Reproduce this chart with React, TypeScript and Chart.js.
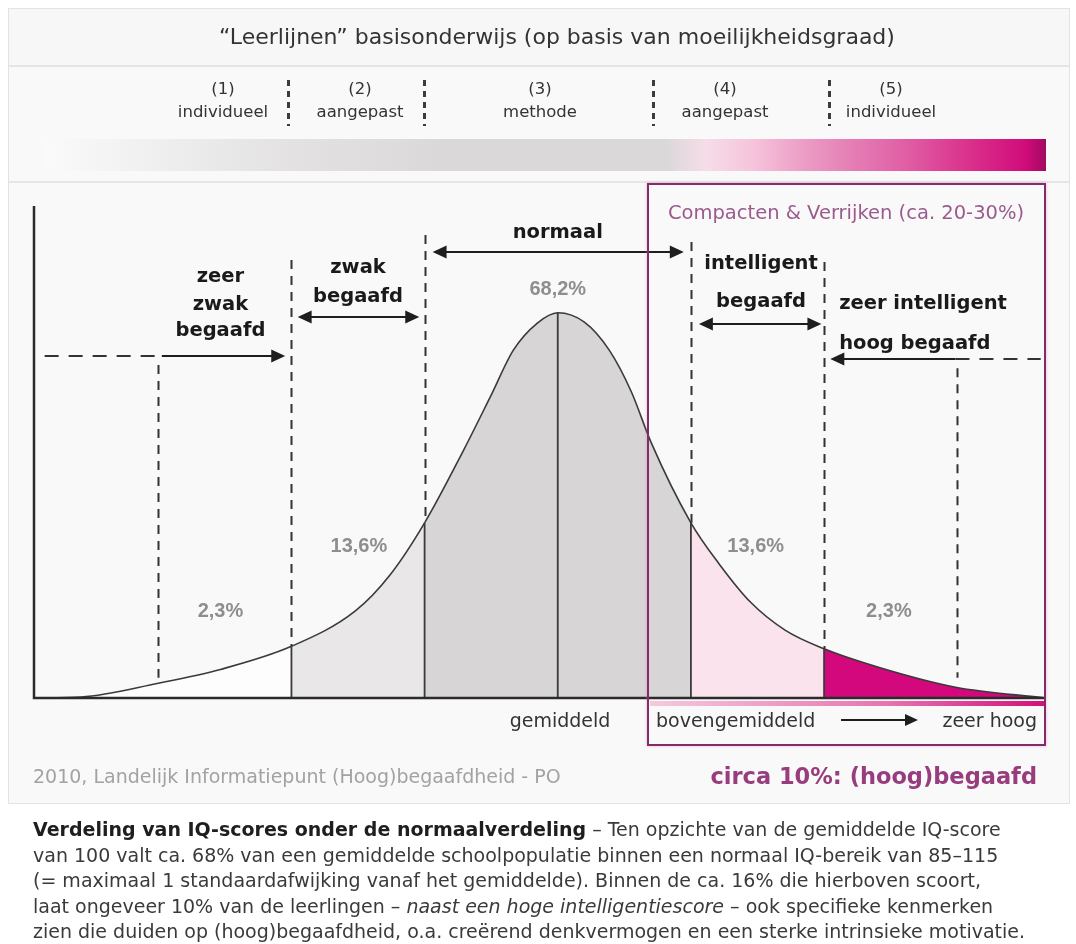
import React, { useEffect, useRef } from 'react';
import { Chart, registerables } from 'chart.js';

Chart.register(...registerables);

// ---------- data ----------
const iqScores = [41, 46.3, 55, 62, 70, 77.2, 81.1, 85, 89.4, 92.4, 95, 97.7, 100, 103, 105.8, 108.3, 110.5, 115, 118.2, 121.7, 125.6, 130, 136.4, 144.8, 155];
const density = [0, 0.2, 3.0, 5.8, 10.5, 17.7, 25, 35.6, 50.4, 61.2, 70.7, 76.2, 78.3, 76.4, 70.7, 62.2, 52, 35.6, 27.2, 19.5, 13.8, 10, 6.1, 2.2, 0];

const bandEdges = [70, 85, 100, 115, 130];
const bandColors = ['rgba(255,255,255,0.6)', '#e9e7e8', '#d7d5d6', '#d7d5d6', '#fbe3ed', '#d3087c'];

const percentLabels = ['2,3%', '13,6%', '68,2%', '13,6%', '2,3%'];
const percentIQ = [62, 77.6, 100, 122.3, 137.3];
const percentLevel = [17.5, 30.7, 83.1, 30.7, 17.5];

const levelNumbers = ['(1)', '(2)', '(3)', '(4)', '(5)'];
const levelNames = ['individueel', 'aangepast', 'methode', 'aangepast', 'individueel'];

const guideIQ = [55, 70, 85, 115, 130, 145];
const guideTop = [67.7, 89, 94.1, 92.7, 88.6, 67];
const guideBottom = [4.1, 10.5, 35.6, 35.6, 10, 4.1];

const groupLabels = [['zeer', 'zwak', 'begaafd'], ['zwak', 'begaafd'], ['normaal'], ['intelligent', 'begaafd'], ['zeer intelligent', 'hoog begaafd']];
const groupIQ = [62, 77.5, 100, 122.9, 131.7];
const groupLevels = [[85.6, 79.9, 74.6], [87.4, 81.5], [94.5], [88.2, 80.5], [80.1, 72.0]];

const arrowFrom = [55.4, 70.7, 85.9, 115.9, 130.7];
const arrowTo = [69.3, 84.4, 114.2, 129.7, 144.8];
const arrowLevel = [69.5, 77.4, 90.7, 76, 68.9];
const arrowHeads = ['end', 'both', 'both', 'both', 'start'];

const dashFrom = [42.2, 144.8];
const dashTo = [55.4, 154.4];
const dashLevel = [69.5, 68.9];

const captionLines = [
  ['b', 'Verdeling van IQ-scores onder de normaalverdeling', 'n', ' – Ten opzichte van de gemiddelde IQ-score'],
  ['n', 'van 100 valt ca. 68% van een gemiddelde schoolpopulatie binnen een normaal IQ-bereik van 85–115'],
  ['n', '(= maximaal 1 standaardafwijking vanaf het gemiddelde). Binnen de ca. 16% die hierboven scoort,'],
  ['n', 'laat ongeveer 10% van de leerlingen – ', 'i', 'naast een hoge intelligentiescore', 'n', ' – ook specifieke kenmerken'],
  ['n', 'zien die duiden op (hoog)begaafdheid, o.a. creërend denkvermogen en een sterke intrinsieke motivatie.'],
];

// ---------- helpers ----------
const bandColorAt = (x: number) => {
  let i = 0;
  while (i < bandEdges.length && x >= bandEdges[i] - 1e-9) i++;
  return bandColors[i];
};
const densityAt = (x: number) => density[iqScores.indexOf(x)];

function drawHead(ctx: CanvasRenderingContext2D, x: number, y: number, dir: number) {
  const L = 14, W = 6.5;
  ctx.beginPath();
  ctx.moveTo(x, y);
  ctx.lineTo(x - dir * L, y - W);
  ctx.lineTo(x - dir * L, y + W);
  ctx.closePath();
  ctx.fill();
}

const overlayPlugin = {
  id: 'overlay',
  afterDatasetsDraw(chart: any) {
    const { ctx, chartArea: a, scales } = chart;
    const px = (v: number) => scales.x.getPixelForValue(v);
    const py = (v: number) => scales.y.getPixelForValue(v);
    ctx.save();

    // axes
    ctx.strokeStyle = '#2b2b2b';
    ctx.lineWidth = 2.5;
    ctx.beginPath();
    ctx.moveTo(a.left, a.top);
    ctx.lineTo(a.left, a.bottom);
    ctx.lineTo(a.right, a.bottom);
    ctx.stroke();

    // dashed vertical guides
    ctx.strokeStyle = '#333';
    ctx.lineWidth = 2;
    ctx.setLineDash([9, 7]);
    guideIQ.forEach((g, i) => {
      ctx.beginPath();
      ctx.moveTo(Math.round(px(g)) + 0.5, py(guideTop[i]));
      ctx.lineTo(Math.round(px(g)) + 0.5, py(guideBottom[i]));
      ctx.stroke();
    });
    // dashed horizontals
    ctx.setLineDash([14, 10]);
    dashFrom.forEach((f, i) => {
      ctx.beginPath();
      ctx.moveTo(px(f), py(dashLevel[i]));
      ctx.lineTo(px(dashTo[i]), py(dashLevel[i]));
      ctx.stroke();
    });
    ctx.setLineDash([]);

    // arrows
    ctx.fillStyle = '#1e1e1e';
    ctx.strokeStyle = '#1e1e1e';
    ctx.lineWidth = 2.2;
    arrowFrom.forEach((f, i) => {
      const x1 = px(f), x2 = px(arrowTo[i]), y = Math.round(py(arrowLevel[i]));
      const h = arrowHeads[i];
      const s = h === 'start' || h === 'both' ? x1 + 10 : x1;
      const e = h === 'end' || h === 'both' ? x2 - 10 : x2;
      ctx.beginPath();
      ctx.moveTo(s, y);
      ctx.lineTo(e, y);
      ctx.stroke();
      if (h === 'end' || h === 'both') drawHead(ctx, x2, y, 1);
      if (h === 'start' || h === 'both') drawHead(ctx, x1, y, -1);
    });

    // group labels
    ctx.fillStyle = '#1a1a1a';
    ctx.font = 'bold 19.5px "DejaVu Sans", Verdana, sans-serif';
    ctx.textBaseline = 'middle';
    groupLabels.forEach((lines, i) => {
      ctx.textAlign = i === groupLabels.length - 1 ? 'left' : 'center';
      lines.forEach((t, j) => ctx.fillText(t, px(groupIQ[i]), py(groupLevels[i][j])));
    });

    // percentages
    ctx.fillStyle = '#8e8e8e';
    ctx.font = 'bold 20px "Liberation Sans", Arial, sans-serif';
    ctx.textAlign = 'center';
    percentLabels.forEach((t, i) => ctx.fillText(t, px(percentIQ[i]), py(percentLevel[i])));

    ctx.restore();
  },
};

type TProps = { x: number; y: number; align?: 'left' | 'center' | 'right'; style?: React.CSSProperties; children: React.ReactNode };
function T({ x, y, align = 'center', style, children }: TProps) {
  const base: React.CSSProperties = { position: 'absolute', top: y, whiteSpace: 'nowrap', lineHeight: 1, ...style };
  if (align === 'center') return <div style={{ ...base, left: x, transform: 'translate(-50%,-50%)' }}>{children}</div>;
  if (align === 'left') return <div style={{ ...base, left: x, transform: 'translateY(-50%)' }}>{children}</div>;
  return <div style={{ ...base, right: 1076 - x, transform: 'translateY(-50%)' }}>{children}</div>;
}

const headerSeparators = [288, 424, 653, 829];
const headerLabelX = [223, 360, 540, 725, 891];

export default function App() {
  const ref = useRef<HTMLCanvasElement | null>(null);

  useEffect(() => {
    if (!ref.current) return;
    const curve = {
      data: iqScores.map((x, i) => ({ x, y: density[i] })),
      borderColor: '#3a3a3a',
      borderWidth: 1.6,
      pointRadius: 0,
      fill: 'origin',
      backgroundColor: bandColors[0],
      cubicInterpolationMode: 'monotone',
      segment: { backgroundColor: (c: any) => bandColorAt(c.p0.parsed.x) },
    };
    const edges = bandEdges.map((e) => ({
      data: [{ x: e, y: 0 }, { x: e, y: densityAt(e) }],
      borderColor: '#3a3a3a',
      borderWidth: 1.8,
      pointRadius: 0,
      fill: false,
      tension: 0,
    }));
    const chart = new Chart(ref.current, {
      type: 'line',
      data: { datasets: [...edges, curve] as any },
      options: {
        animation: false,
        responsive: false,
        events: [],
        layout: { padding: { left: 34, right: 30, top: 206, bottom: 246 } },
        scales: {
          x: { type: 'linear', min: 41, max: 155, display: false },
          y: { type: 'linear', min: 0, max: 100, display: false },
        },
        plugins: { legend: { display: false }, tooltip: { enabled: false } },
      },
      plugins: [overlayPlugin],
    });
    return () => chart.destroy();
  }, []);

  const font = '"DejaVu Sans", Verdana, sans-serif';

  return (
    <div style={{ position: 'absolute', left: 0, top: 0, width: 1076, height: 944, background: '#ffffff', fontFamily: font, overflow: 'hidden', color: '#333' }}>
      {/* card */}
      <div style={{ position: 'absolute', left: 8, top: 8, width: 1062, height: 796, background: '#f9f9f9', border: '1px solid #e3e3e3', boxSizing: 'border-box' }} />
      <div style={{ position: 'absolute', left: 9, top: 9, width: 1060, height: 56, background: '#f7f7f7' }} />
      <div style={{ position: 'absolute', left: 9, top: 65, width: 1060, height: 2, background: '#e4e4e4' }} />
      <div style={{ position: 'absolute', left: 9, top: 181, width: 1060, height: 2, background: '#e6e6e6' }} />
      {/* gradient bar */}
      <div style={{ position: 'absolute', left: 45, top: 139, width: 1001, height: 32, background: 'linear-gradient(to right, #fafafa 0%, #eeeeee 12%, #e3e1e2 25%, #dad8d9 40%, #dad8d9 62%, #f6dde9 66%, #f5c2da 71%, #eda3c8 75%, #e582b7 80%, #e05ea5 86%, #d92c8a 93%, #d00c7a 98%, #a00a60 100%)' }} />
      {headerSeparators.map((x, i) => (
        <div key={'s' + i} style={{ position: 'absolute', left: x - 1, top: 80, width: 2.5, height: 46, background: 'repeating-linear-gradient(to bottom, #3c3c3c 0px, #3c3c3c 6px, transparent 6px, transparent 11px)' }} />
      ))}

      <canvas ref={ref} width={1076} height={944} style={{ position: 'absolute', left: 0, top: 0, width: 1076, height: 944 }} />

      {/* magenta box */}
      <div style={{ position: 'absolute', left: 650, top: 701, width: 394, height: 5, background: 'linear-gradient(to right, #f6c9dd, #e774b0 60%, #d3107c)' }} />
      <div style={{ position: 'absolute', left: 647, top: 183, width: 399, height: 563, border: '2.5px solid #862a6a', boxSizing: 'border-box', boxShadow: '0 0 3px rgba(220,120,180,0.5)' }} />

      {/* header texts */}
      <T x={557} y={37} style={{ fontSize: 22, color: '#333' }}>“Leerlijnen” basisonderwijs (op basis van moeilijkheidsgraad)</T>
      {levelNumbers.map((t, i) => (
        <T key={'n' + i} x={headerLabelX[i]} y={89} style={{ fontSize: 16.5, color: '#333' }}>{t}</T>
      ))}
      {levelNames.map((t, i) => (
        <T key={'l' + i} x={headerLabelX[i]} y={112} style={{ fontSize: 16.5, color: '#333' }}>{t}</T>
      ))}

      <T x={846} y={213} style={{ fontSize: 19.5, color: '#9b5a8d' }}>Compacten &amp; Verrijken (ca. 20-30%)</T>

      {/* bottom labels */}
      <T x={560} y={720} style={{ fontSize: 19, color: '#333' }}>gemiddeld</T>
      <T x={656} y={720} align="left" style={{ fontSize: 19, color: '#333' }}>bovengemiddeld</T>
      <div style={{ position: 'absolute', left: 841, top: 719, width: 66, height: 2, background: '#1e1e1e' }} />
      <div style={{ position: 'absolute', left: 905, top: 714, width: 0, height: 0, borderTop: '6px solid transparent', borderBottom: '6px solid transparent', borderLeft: '13px solid #1e1e1e' }} />
      <T x={1037} y={720} align="right" style={{ fontSize: 19, color: '#333' }}>zeer hoog</T>

      {/* footer */}
      <T x={33} y={776} align="left" style={{ fontSize: 19, color: '#a2a2a2' }}>2010, Landelijk Informatiepunt (Hoog)begaafdheid - PO</T>
      <T x={1037} y={776} align="right" style={{ fontSize: 22.5, fontWeight: 'bold', color: '#983c7e' }}>circa 10%: (hoog)begaafd</T>

      {/* caption */}
      {captionLines.map((parts, i) => {
        const spans = [];
        for (let k = 0; k < parts.length; k += 2) {
          const kind = parts[k];
          const txt = parts[k + 1];
          spans.push(
            <span key={k} style={{ fontWeight: kind === 'b' ? 'bold' : 'normal', fontStyle: kind === 'i' ? 'italic' : 'normal', color: kind === 'b' ? '#1e1e1e' : '#3a3a3a' }}>{txt}</span>
          );
        }
        return (
          <T key={'c' + i} x={33} y={829 + i * 25.5} align="left" style={{ fontSize: 19 }}>{spans}</T>
        );
      })}
    </div>
  );
}
